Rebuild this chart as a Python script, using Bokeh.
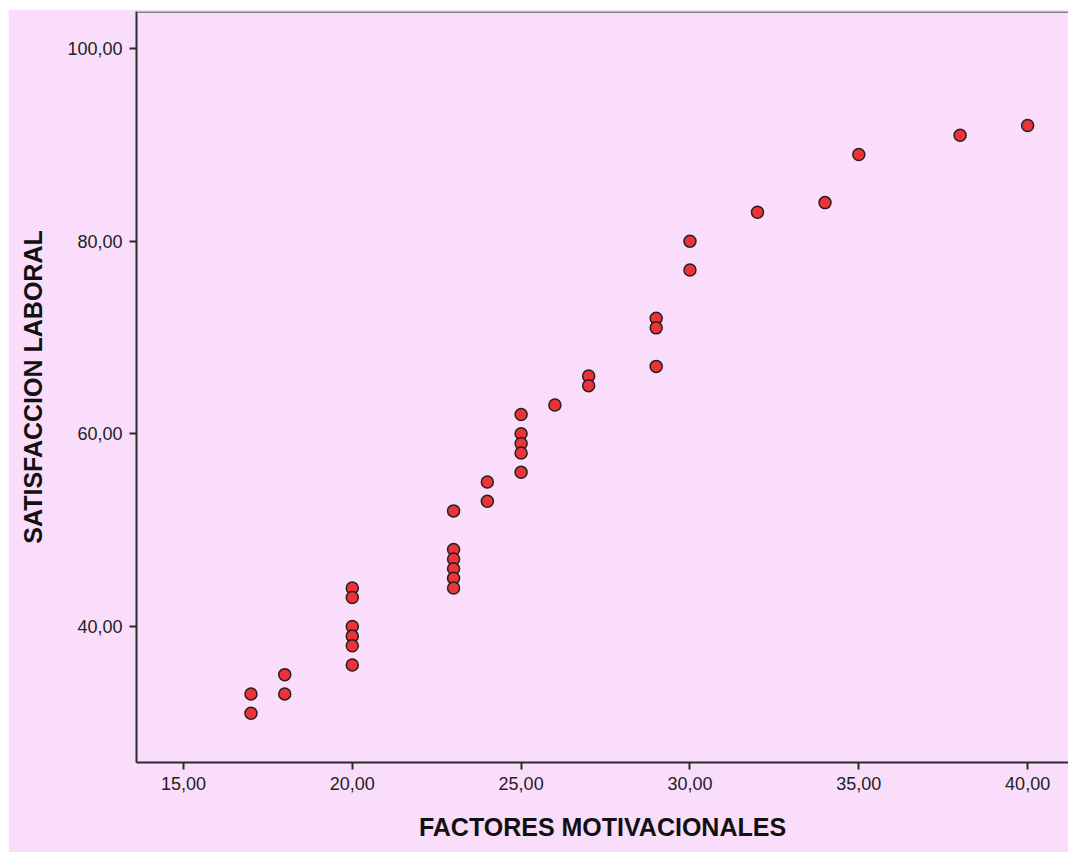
from bokeh.plotting import figure
from bokeh.models import ColumnDataSource, FixedTicker, CustomJSTickFormatter, Span, Range1d
from bokeh.embed import file_html
from bokeh.resources import INLINE

# Data
factores = [17, 17, 18, 18,
            20, 20, 20, 20, 20, 20,
            23, 23, 23, 23, 23, 23,
            24, 24,
            25, 25, 25, 25, 25,
            26,
            27, 27,
            29, 29, 29,
            30, 30,
            32, 34, 35, 38, 40]
satisfaccion = [33, 31, 35, 33,
                44, 43, 40, 39, 38, 36,
                52, 48, 47, 46, 45, 44,
                55, 53,
                62, 60, 59, 58, 56,
                63,
                66, 65,
                72, 71, 67,
                80, 77,
                83, 84, 89, 91, 92]
x_ticks = [15, 20, 25, 30, 35, 40]
y_ticks = [40, 60, 80, 100]
x_label = "FACTORES MOTIVACIONALES"
y_label = "SATISFACCION LABORAL"

BG = "#FADDFA"

src = ColumnDataSource(dict(x=factores, y=satisfaccion))

p = figure(width=1060, height=843, output_backend="svg", toolbar_location=None,
           x_range=Range1d(13.61, 41.21), y_range=Range1d(25.88, 103.84),
           min_border_left=128, min_border_right=0, min_border_top=2, min_border_bottom=90)
p.margin = (9, 0, 0, 8)
p.background_fill_color = BG
p.border_fill_color = BG
p.outline_line_color = None
p.xgrid.grid_line_color = None
p.ygrid.grid_line_color = None

p.scatter("x", "y", source=src, size=12, fill_color="#EE3338",
          line_color="#222222", line_width=1.5)

fmt = CustomJSTickFormatter(code="return tick.toFixed(2).replace('.', ',');")
for ax, ticks, lab in ((p.xaxis[0], x_ticks, x_label), (p.yaxis[0], y_ticks, y_label)):
    ax.ticker = FixedTicker(ticks=ticks)
    ax.formatter = fmt
    ax.minor_tick_line_color = None
    ax.major_tick_in = 0
    ax.major_tick_out = 7
    ax.major_tick_line_color = "#2a2a2a"
    ax.major_tick_line_width = 2
    ax.axis_line_color = "#2a2a2a"
    ax.axis_line_width = 2
    ax.major_label_text_font = "Liberation Sans"
    ax.major_label_text_font_size = "18px"
    ax.major_label_text_color = "#222222"
    ax.major_label_standoff = 7
    ax.axis_label = lab
    ax.axis_label_text_font = "Liberation Sans"
    ax.axis_label_text_font_style = "bold"
    ax.axis_label_text_font_size = "25px"
    ax.axis_label_text_color = "#111111"

p.xaxis[0].axis_label_standoff = 20
p.yaxis[0].axis_label_standoff = 17

top_line = Span(location=103.84, dimension="width", line_color="#808080", line_width=3)
p.add_layout(top_line)

html = file_html(p, INLINE)
html = html.replace("<head>", "<head><style>body{margin:0;background:#ffffff;}</style>", 1)
open("out.html", "w").write(html)
